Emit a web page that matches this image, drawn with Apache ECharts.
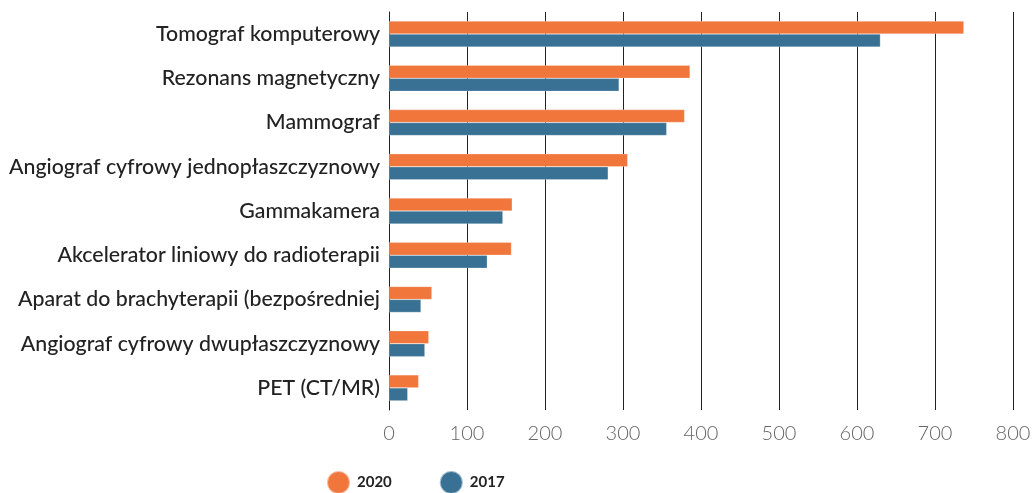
<!DOCTYPE html>
<html>
<head>
<meta charset="utf-8">
<script src="https://cdn.jsdelivr.net/npm/echarts@6/dist/echarts.min.js"></script>
<style>
  html, body { margin: 0; padding: 0; background: #fff; }
  #chart { width: 1035px; height: 493px; }
</style>
</head>
<body>
<div id="chart"></div>
<script>
// Equipment categories, listed top to bottom
const categories = [
  'Tomograf komputerowy',
  'Rezonans magnetyczny',
  'Mammograf',
  'Angiograf cyfrowy jednopłaszczyznowy',
  'Gammakamera',
  'Akcelerator liniowy do radioterapii',
  'Aparat do brachyterapii (bezpośredniej',
  'Angiograf cyfrowy dwupłaszczyznowy',
  'PET (CT/MR)'
];
const values2020 = [737, 386, 379, 306, 158, 157, 55, 51, 38];
const values2017 = [630, 295, 356, 281, 146, 126, 41, 46, 24];
const seriesNames = ['2020', '2017'];
const seriesColors = ['#F0763C', '#387193'];

const chart = echarts.init(document.getElementById('chart'));
const font = 'Lato, "Open Sans", sans-serif';

chart.setOption({
  animation: false,
  backgroundColor: '#fff',
  grid: { left: 389, right: 22, top: 12, bottom: 83, containLabel: false },
  legend: {
    top: 465,
    left: 321,
    itemGap: 47,
    itemWidth: 23,
    itemHeight: 23,
    icon: 'circle',
    textStyle: { fontFamily: font, fontWeight: 'bold', fontSize: 15, color: '#222', padding: [0, 0, 0, 2] },
    data: seriesNames
  },
  xAxis: {
    type: 'value',
    min: 0,
    max: 800,
    interval: 100,
    axisLine: { show: false },
    axisTick: { show: false },
    splitLine: { show: true, lineStyle: { color: '#222', width: 1 } },
    axisLabel: { fontFamily: font, fontWeight: 300, fontSize: 20, color: '#666', margin: 14 }
  },
  yAxis: {
    type: 'category',
    inverse: true,
    data: categories,
    axisLine: { show: true, lineStyle: { color: '#222', width: 1 } },
    axisTick: { show: false },
    axisLabel: { fontFamily: font, fontWeight: 500, fontSize: 21.3, color: '#222', margin: 9 }
  },
  series: [
    {
      name: seriesNames[0],
      type: 'bar',
      data: values2020,
      barWidth: 13,
      barGap: '0%',
      itemStyle: { color: seriesColors[0], borderColor: 'rgba(255,255,255,0.5)', borderWidth: 0.5 }
    },
    {
      name: seriesNames[1],
      type: 'bar',
      data: values2017,
      barWidth: 13,
      barGap: '0%',
      itemStyle: { color: seriesColors[1], borderColor: 'rgba(255,255,255,0.5)', borderWidth: 0.5 }
    }
  ]
});
</script>
</body>
</html>
